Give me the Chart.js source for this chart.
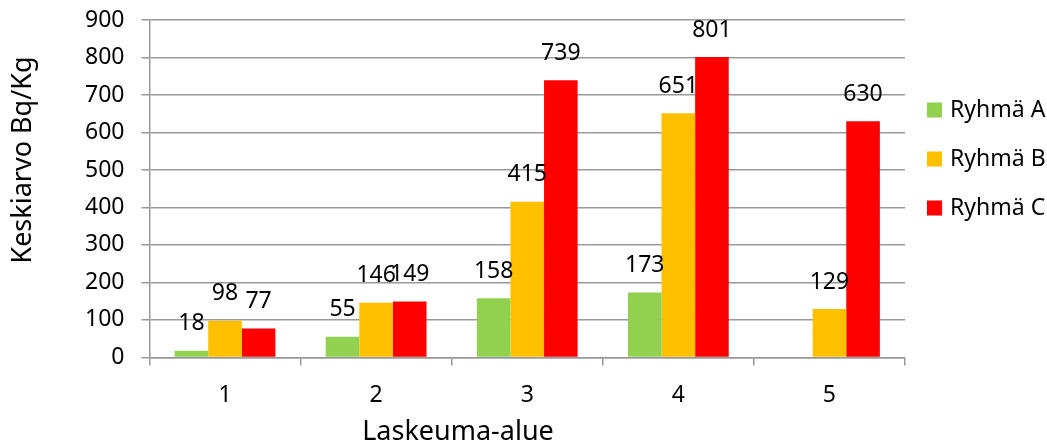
<!DOCTYPE html>
<html>
<head>
<meta charset="utf-8">
<script src="https://cdn.jsdelivr.net/npm/chart.js@4/dist/chart.umd.min.js"></script>
<style>
  html, body { margin: 0; padding: 0; background: #fff; }
  #wrap { width: 1047px; height: 444px; position: relative; }
</style>
</head>
<body>
<div id="wrap"><canvas id="c" width="1047" height="444"></canvas></div>
<script>
// Laskeuma-alueet (categories)
const categories = ['1', '2', '3', '4', '5'];

// Keskiarvot ryhmittäin, Bq/Kg
const ryhmaA = [18, 55, 158, 173, null];
const ryhmaB = [98, 146, 415, 651, 129];
const ryhmaC = [77, 149, 739, 801, 630];

const seriesNames = ['Ryhmä A', 'Ryhmä B', 'Ryhmä C'];
const seriesColors = ['#92D050', '#FFC000', '#FF0000'];

const yMin = 0, yMax = 900, yStep = 100;

const FONT = '"Noto Sans", "Open Sans", sans-serif';
const GRID = '#999999';

// Value labels drawn above each bar
const valueLabels = {
  id: 'valueLabels',
  afterDatasetsDraw(chart) {
    const ctx = chart.ctx;
    ctx.save();
    ctx.font = '23px ' + FONT;
    ctx.fillStyle = '#000';
    ctx.textAlign = 'center';
    ctx.textBaseline = 'middle';
    chart.data.datasets.forEach((ds, i) => {
      const meta = chart.getDatasetMeta(i);
      meta.data.forEach((bar, j) => {
        const v = ds.data[j];
        if (v === null || v === undefined) return;
        ctx.fillText(String(v), bar.x, bar.y - 27);
      });
    });
    ctx.restore();
  }
};

// Legend at the right and both axis titles
const sideText = {
  id: 'sideText',
  afterDraw(chart) {
    const ctx = chart.ctx;
    ctx.save();
    ctx.font = '23px ' + FONT;
    ctx.textBaseline = 'middle';
    ctx.textAlign = 'left';
    const ys = [110, 159, 208];
    seriesNames.forEach((name, i) => {
      ctx.fillStyle = seriesColors[i];
      ctx.fillRect(927, ys[i] - 7.5, 15, 15);
      ctx.fillStyle = '#000';
      ctx.fillText(name, 950, ys[i]);
    });
    ctx.font = '27px ' + FONT;
    ctx.textAlign = 'center';
    ctx.fillText('Laskeuma-alue', 458, 432);
    ctx.translate(23, 160);
    ctx.rotate(-Math.PI / 2);
    ctx.fillText('Keskiarvo Bq/Kg', 0, 0);
    ctx.restore();
  }
};

new Chart(document.getElementById('c'), {
  type: 'bar',
  data: {
    labels: categories,
    datasets: [
      { label: seriesNames[0], data: ryhmaA, backgroundColor: seriesColors[0] },
      { label: seriesNames[1], data: ryhmaB, backgroundColor: seriesColors[1] },
      { label: seriesNames[2], data: ryhmaC, backgroundColor: seriesColors[2] }
    ]
  },
  options: {
    responsive: false,
    animation: false,
    layout: { padding: { left: 68, right: 142, top: 20, bottom: 19 } },
    datasets: { bar: { categoryPercentage: 0.667, barPercentage: 1.0 } },
    plugins: {
      legend: { display: false },
      tooltip: { enabled: false }
    },
    scales: {
      x: {
        offset: true,
        grid: {
          offset: true,
          drawOnChartArea: false,
          drawTicks: true,
          tickLength: 8,
          color: GRID,
          lineWidth: 1.5
        },
        border: { display: true, color: GRID, width: 1.5 },
        ticks: { color: '#000', font: { family: FONT, size: 23 }, padding: 16 }
      },
      y: {
        min: yMin,
        max: yMax,
        afterFit(scale) {
          // the top label may overhang into the layout padding
          scale.paddingTop = 0;
          scale.paddingBottom = 0;
        },
        ticks: { stepSize: yStep, color: '#000', font: { family: FONT, size: 23 }, padding: 17 },
        grid: { color: GRID, lineWidth: 1.5, tickLength: 8 },
        border: { display: true, color: GRID, width: 1.5 }
      }
    }
  },
  plugins: [valueLabels, sideText]
});
</script>
</body>
</html>
